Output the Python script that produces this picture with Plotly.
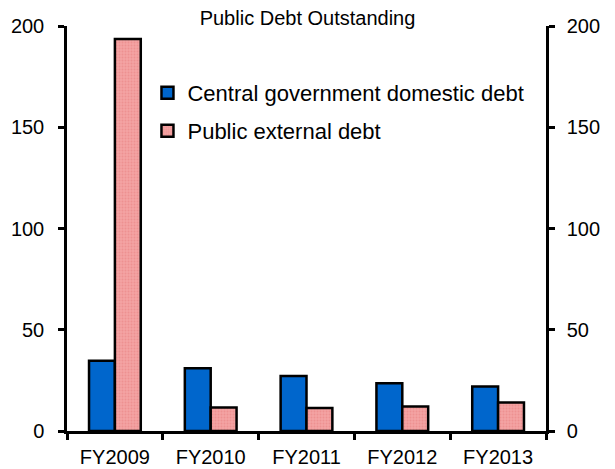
import plotly.graph_objects as go

# Fiscal years and outstanding debt by category
years = ["FY2009", "FY2010", "FY2011", "FY2012", "FY2013"]
domestic_debt = [34.7, 31.0, 27.2, 23.6, 22.0]
external_debt = [193.6, 11.6, 11.3, 12.1, 14.1]
y_ticks = [0, 50, 100, 150, 200]

FONT = "Arial, Liberation Sans, sans-serif"
BLUE = "#0066CC"
PINK = "#F4A3A3"

fig = go.Figure()
fig.add_trace(go.Bar(
    x=years, y=domestic_debt, name="Central government domestic debt",
    marker=dict(color=BLUE, line=dict(color="black", width=2.5)),
    legend="legend",
))
fig.add_trace(go.Bar(
    x=years, y=external_debt, name="Public external debt",
    marker=dict(color=PINK, line=dict(color="black", width=2.5),
                pattern=dict(shape=".", fgcolor="#E57F7F", bgcolor=PINK,
                             size=3, solidity=0.35)),
    legend="legend2",
))
# invisible trace to carry the right-hand axis
fig.add_trace(go.Scatter(x=years, y=[None] * len(years), yaxis="y2",
                         showlegend=False, hoverinfo="skip"))

axis_common = dict(
    range=[0, 200], tickvals=y_ticks, ticks="outside", ticklen=6,
    tickwidth=2.5, tickcolor="black", showline=True, linewidth=2.5,
    linecolor="black", showgrid=False, zeroline=False,
    tickfont=dict(family=FONT, size=20, color="black"),
    automargin=False,
)

legend_common = dict(
    x=0.168, xanchor="left", yanchor="middle", bgcolor="rgba(0,0,0,0)",
    font=dict(family=FONT, size=22, color="black"), itemwidth=30,
)

fig.update_layout(
    width=615, height=469,
    margin=dict(l=67, r=69, t=26, b=38),
    paper_bgcolor="white", plot_bgcolor="white",
    barmode="group", bargap=0.46, bargroupgap=0.0,
    title=dict(text="Public Debt Outstanding", x=0.5, xanchor="center",
               xref="container", y=1 - 18 / 469, yanchor="middle",
               yref="container",
               font=dict(family=FONT, size=20, color="black")),
    xaxis=dict(
        tickson="boundaries", ticks="outside", ticklen=6, tickwidth=2.5,
        tickcolor="black", showline=True, linewidth=2.5, linecolor="black",
        showgrid=False, tickfont=dict(family=FONT, size=20, color="black"),
        ticklabelstandoff=6, automargin=False,
    ),
    yaxis=dict(**axis_common, side="left", ticklabelstandoff=10),
    yaxis2=dict(**axis_common, side="right", overlaying="y",
                ticklabelstandoff=8),
    legend=dict(**legend_common, y=1 - (93 - 26) / 405),
    legend2=dict(**legend_common, y=1 - (131 - 26) / 405),
    showlegend=True,
)

fig.write_html("out.html")
